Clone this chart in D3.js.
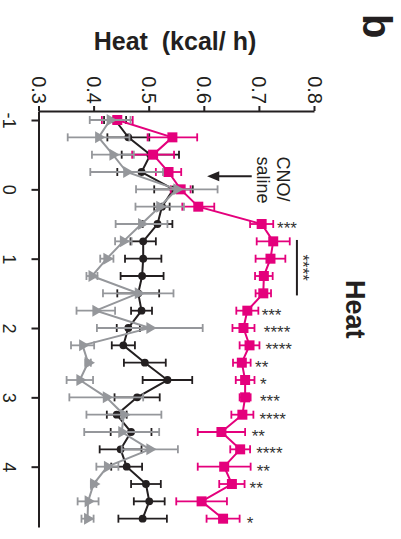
<!DOCTYPE html>
<html>
<head>
<meta charset="utf-8">
<script src="https://cdn.jsdelivr.net/npm/d3@7"></script>
<style>
  html, body { margin: 0; padding: 0; background: #fff; }
  svg { display: block; }
  text { font-family: "Liberation Sans", Arial, Helvetica, sans-serif; }
</style>
</head>
<body>
<svg id="chart" width="401" height="539"></svg>
<script>
// ---- data ----
const times = [-1, -0.75, -0.5, -0.25, 0, 0.25, 0.5, 0.75, 1, 1.25, 1.5, 1.75,
               2, 2.25, 2.5, 2.75, 3, 3.25, 3.5, 3.75, 4, 4.25, 4.5, 4.75];

const pinkMean = [0.443, 0.543, 0.508, 0.536, 0.558, 0.590, 0.705, 0.726, 0.721, 0.709, 0.708, 0.679,
                  0.672, 0.683, 0.669, 0.675, 0.675, 0.670, 0.632, 0.666, 0.637, 0.651, 0.596, 0.635];
const pinkErr  = [0.028, 0.045, 0.038, 0.023, 0.018, 0.029, 0.021, 0.030, 0.027, 0.016, 0.014, 0.020,
                  0.020, 0.018, 0.016, 0.017, 0.010, 0.020, 0.043, 0.018, 0.048, 0.023, 0.046, 0.030];

const blackMean = [0.439, 0.463, 0.503, 0.487, 0.545, 0.524, 0.516, 0.490, 0.490, 0.488, 0.481, 0.487,
                   0.463, 0.454, 0.493, 0.534, 0.479, 0.442, 0.468, 0.449, 0.460, 0.495, 0.501, 0.489];
const blackErr  = [0.020, 0.038, 0.052, 0.044, 0.035, 0.014, 0.027, 0.023, 0.033, 0.039, 0.038, 0.019,
                   0.021, 0.021, 0.038, 0.045, 0.041, 0.018, 0.037, 0.038, 0.028, 0.027, 0.028, 0.044];

const grayMean = [0.430, 0.409, 0.435, 0.460, 0.551, 0.520, 0.487, 0.454, 0.424, 0.397, 0.481, 0.404,
                  0.502, 0.380, 0.390, 0.375, 0.423, 0.455, 0.451, 0.502, 0.425, 0.400, 0.390, 0.389];
const grayErr  = [0.037, 0.056, 0.038, 0.066, 0.074, 0.044, 0.047, 0.015, 0.012, 0.010, 0.064, 0.035,
                  0.096, 0.021, 0.005, 0.024, 0.067, 0.068, 0.068, 0.051, 0.020, 0.005, 0.019, 0.011];

const valueTicks = [0.3, 0.4, 0.5, 0.6, 0.7, 0.8];
const valueTickLabels = ["0.3", "0.4", "0.5", "0.6", "0.7", "0.8"];
const timeTicks = [-1, 0, 1, 2, 3, 4];
const timeTickLabels = ["-1", "0", "1", "2", "3", "4"];

// significance stars next to the magenta series
const starIdx  = [6, 11, 12, 13, 14, 15, 16, 17, 18, 19, 20, 21, 23];
const starText = ["***", "***", "****", "****", "**", "*", "***", "****", "**", "****", "**", "**", "*"];
const starPos  = [0.733, 0.705, 0.709, 0.712, 0.693, 0.702, 0.702, 0.701, 0.687, 0.695, 0.696, 0.683, 0.678];

// bracket annotation (time range, value position)
const bracketFrom = 0.73, bracketTo = 1.53, bracketValue = 0.769, bracketText = "****";

const titleText = "Heat  (kcal/ h)";
const panelLabel = "b";
const panelTitle = "Heat";
const noteLines = ["CNO/", "saline"];

// ---- layout ----
const svg = d3.select("#chart");
const x = d3.scaleLinear().domain([0.3, 0.8]).range([38.5, 314]);
const y = d3.scaleLinear().domain([-1.13, 4.87]).range([111, 527]);

const PINK = "#e4007c", BLACK = "#231f20", GRAY = "#95979b", STAR = "#333333";
const FONT = '"Liberation Sans", Arial, Helvetica, sans-serif';

// rotated text helper (reads top-to-bottom)
function rtext(g, px, py, str, size, weight, anchor, fill) {
  return g.append("text")
    .attr("transform", `translate(${px},${py}) rotate(90)`)
    .attr("text-anchor", anchor || "start")
    .attr("font-size", size)
    .attr("font-weight", weight || "normal")
    .attr("fill", fill || "#231f20")
    .style("white-space", "pre")
    .text(str);
}

// ---- axes ----
const xAxis = d3.axisTop(x).tickValues(valueTicks).tickSize(5).tickSizeOuter(0)
  .tickFormat((d, i) => valueTickLabels[i]);
const gx = svg.append("g").attr("transform", `translate(0,${y.range()[0]})`).call(xAxis);
gx.select(".domain").attr("stroke", BLACK).attr("stroke-width", 2);
gx.selectAll(".tick line").attr("stroke", BLACK).attr("stroke-width", 2);
gx.selectAll(".tick text")
  .attr("x", 0).attr("y", 0).attr("dy", "0.35em")
  .attr("text-anchor", "end")
  .attr("transform", "translate(0,-7) rotate(90)")
  .attr("font-size", 20).attr("font-family", FONT).attr("fill", BLACK);

const yAxis = d3.axisLeft(y).tickValues(timeTicks).tickSize(7).tickSizeOuter(0)
  .tickFormat((d, i) => timeTickLabels[i]);
const gy = svg.append("g").attr("transform", `translate(${x.range()[0]},0)`).call(yAxis);
gy.select(".domain").attr("stroke", BLACK).attr("stroke-width", 2);
gy.selectAll(".tick line").attr("stroke", BLACK).attr("stroke-width", 2);
gy.selectAll(".tick text")
  .attr("x", 0).attr("y", 0).attr("dy", "0.35em")
  .attr("text-anchor", "middle")
  .attr("transform", "translate(-29,0) rotate(90)")
  .attr("font-size", 18).attr("font-family", FONT).attr("fill", BLACK);

// ---- series ----
function drawSeries(means, errs, color, marker) {
  const data = times.map((t, i) => ({ t, m: means[i], e: errs[i] }));
  const g = svg.append("g");
  const line = d3.line().x(d => x(d.m)).y(d => y(d.t));
  g.append("path").datum(data).attr("d", line)
    .attr("fill", "none").attr("stroke", color).attr("stroke-width", 2);
  const eb = g.selectAll(".eb").data(data).enter().append("g");
  eb.append("line")
    .attr("x1", d => x(d.m - d.e)).attr("x2", d => x(d.m + d.e))
    .attr("y1", d => y(d.t)).attr("y2", d => y(d.t))
    .attr("stroke", color).attr("stroke-width", 1.8);
  [-1, 1].forEach(s => {
    eb.append("line")
      .attr("x1", d => x(d.m + s * d.e)).attr("x2", d => x(d.m + s * d.e))
      .attr("y1", d => y(d.t) - 4).attr("y2", d => y(d.t) + 4)
      .attr("stroke", color).attr("stroke-width", 1.8);
  });
  const sym = g.selectAll(".pt").data(data).enter().append("path")
    .attr("fill", color)
    .attr("transform", d => `translate(${x(d.m)},${y(d.t)})` + (marker === "triangle" ? " rotate(90)" : ""));
  if (marker === "square") sym.attr("d", d3.symbol(d3.symbolSquare, 100)());
  if (marker === "circle") sym.attr("d", d3.symbol(d3.symbolCircle, 48)());
  if (marker === "triangle") sym.attr("d", d3.symbol(d3.symbolTriangle, 62)());
}

drawSeries(blackMean, blackErr, BLACK, "circle");
drawSeries(pinkMean, pinkErr, PINK, "square");
drawSeries(grayMean, grayErr, GRAY, "triangle");

// ---- significance stars ----
svg.append("g").selectAll("text").data(starIdx).enter().append("text")
  .attr("x", (d, i) => x(starPos[i]))
  .attr("y", d => y(times[d]) + 10)
  .attr("font-size", 17).attr("fill", STAR)
  .text((d, i) => starText[i]);

// bracket
svg.append("line")
  .attr("x1", x(bracketValue)).attr("x2", x(bracketValue))
  .attr("y1", y(bracketFrom)).attr("y2", y(bracketTo))
  .attr("stroke", BLACK).attr("stroke-width", 2);
rtext(svg, x(bracketValue) + 0.5, y((bracketFrom + bracketTo) / 2), bracketText, 17, "normal", "middle", STAR);

// ---- CNO/saline note with arrow ----
const arrowT = -0.19;
svg.append("line")
  .attr("x1", x(0.687)).attr("x2", x(0.620))
  .attr("y1", y(arrowT)).attr("y2", y(arrowT))
  .attr("stroke", BLACK).attr("stroke-width", 2);
svg.append("path")
  .attr("d", d3.line()([[x(0.606), y(arrowT)], [x(0.628), y(arrowT) - 5], [x(0.628), y(arrowT) + 5]]) + "Z")
  .attr("fill", BLACK);
rtext(svg, x(0.733), y(-0.475), noteLines[0], 18, "normal", "start", BLACK);
rtext(svg, x(0.696), y(-0.475), noteLines[1], 18, "normal", "start", BLACK);

// ---- titles ----
svg.append("text")
  .attr("x", 175).attr("y", 50)
  .attr("text-anchor", "middle")
  .attr("font-size", 25).attr("font-weight", "bold").attr("fill", BLACK)
  .style("white-space", "pre")
  .text(titleText);

rtext(svg, 363, 14, panelLabel, 40, "bold", "start", BLACK);
rtext(svg, 346, 280, panelTitle, 27, "bold", "start", BLACK);
</script>
</body>
</html>
